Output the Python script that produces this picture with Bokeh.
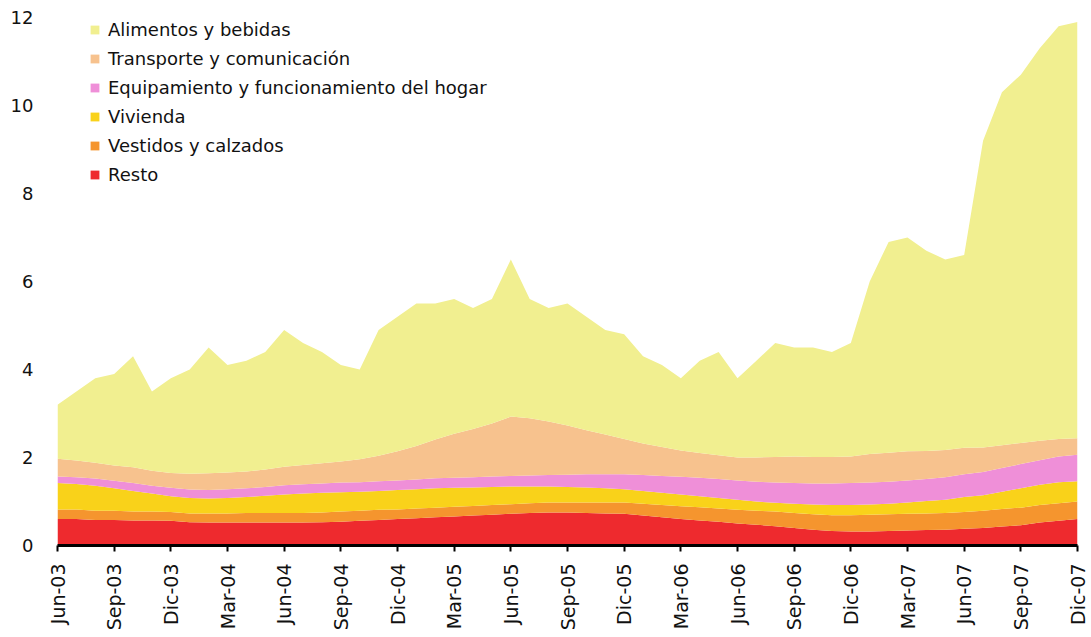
import numpy as np
from bokeh.plotting import figure
from bokeh.models import ColumnDataSource, FixedTicker, Legend, LegendItem, Range1d
from bokeh.embed import file_html
from bokeh.resources import INLINE

# Monthly contributions to inflation by group (percentage points)
months = [
    "Jun-03", "Jul-03", "Ago-03", "Sep-03", "Oct-03", "Nov-03", "Dic-03",
    "Ene-04", "Feb-04", "Mar-04", "Abr-04", "May-04", "Jun-04", "Jul-04",
    "Ago-04", "Sep-04", "Oct-04", "Nov-04", "Dic-04",
    "Ene-05", "Feb-05", "Mar-05", "Abr-05", "May-05", "Jun-05", "Jul-05",
    "Ago-05", "Sep-05", "Oct-05", "Nov-05", "Dic-05",
    "Ene-06", "Feb-06", "Mar-06", "Abr-06", "May-06", "Jun-06", "Jul-06",
    "Ago-06", "Sep-06", "Oct-06", "Nov-06", "Dic-06",
    "Ene-07", "Feb-07", "Mar-07", "Abr-07", "May-07", "Jun-07", "Jul-07",
    "Ago-07", "Sep-07", "Oct-07", "Nov-07", "Dic-07",
]

resto = [0.60, 0.60, 0.58, 0.58, 0.57, 0.57, 0.56, 0.53, 0.52, 0.52, 0.52, 0.52,
         0.52, 0.52, 0.53, 0.54, 0.56, 0.58, 0.60, 0.62, 0.64, 0.66, 0.68, 0.70,
         0.72, 0.74, 0.75, 0.75, 0.74, 0.73, 0.72, 0.68, 0.64, 0.60, 0.57, 0.54,
         0.50, 0.47, 0.44, 0.40, 0.36, 0.33, 0.32, 0.32, 0.33, 0.34, 0.35, 0.36,
         0.38, 0.40, 0.43, 0.46, 0.52, 0.56, 0.60]

vestidos = [0.22, 0.22, 0.21, 0.21, 0.20, 0.20, 0.20, 0.20, 0.21, 0.21, 0.22, 0.22,
            0.22, 0.22, 0.22, 0.23, 0.23, 0.23, 0.22, 0.22, 0.22, 0.22, 0.22, 0.22,
            0.22, 0.22, 0.23, 0.23, 0.24, 0.25, 0.26, 0.27, 0.28, 0.29, 0.30, 0.30,
            0.31, 0.32, 0.33, 0.34, 0.35, 0.36, 0.37, 0.38, 0.38, 0.38, 0.38, 0.38,
            0.38, 0.39, 0.40, 0.40, 0.40, 0.40, 0.40]

vivienda = [0.60, 0.58, 0.57, 0.51, 0.47, 0.41, 0.36, 0.35, 0.34, 0.35, 0.36, 0.39,
            0.42, 0.44, 0.45, 0.44, 0.43, 0.43, 0.44, 0.44, 0.44, 0.43, 0.42, 0.41,
            0.40, 0.38, 0.36, 0.35, 0.34, 0.32, 0.30, 0.29, 0.28, 0.27, 0.25, 0.24,
            0.23, 0.21, 0.20, 0.21, 0.22, 0.23, 0.23, 0.23, 0.24, 0.26, 0.28, 0.30,
            0.34, 0.35, 0.39, 0.44, 0.46, 0.48, 0.46]

equipamiento = [0.15, 0.15, 0.16, 0.17, 0.18, 0.18, 0.19, 0.19, 0.19, 0.20, 0.20, 0.20,
                0.21, 0.21, 0.21, 0.22, 0.22, 0.22, 0.22, 0.22, 0.23, 0.23, 0.23, 0.24,
                0.24, 0.25, 0.26, 0.28, 0.30, 0.32, 0.34, 0.36, 0.38, 0.40, 0.42, 0.43,
                0.44, 0.45, 0.46, 0.47, 0.48, 0.49, 0.50, 0.50, 0.50, 0.50, 0.50, 0.51,
                0.52, 0.53, 0.54, 0.55, 0.56, 0.58, 0.60]

transporte = [0.40, 0.38, 0.36, 0.35, 0.36, 0.34, 0.34, 0.36, 0.38, 0.38, 0.38, 0.40,
              0.42, 0.44, 0.46, 0.48, 0.52, 0.58, 0.66, 0.76, 0.88, 1.00, 1.10, 1.20,
              1.35, 1.30, 1.22, 1.12, 1.00, 0.90, 0.80, 0.72, 0.66, 0.60, 0.56, 0.54,
              0.52, 0.55, 0.58, 0.60, 0.60, 0.60, 0.60, 0.65, 0.66, 0.66, 0.64, 0.62,
              0.60, 0.56, 0.52, 0.48, 0.44, 0.40, 0.38]

alimentos = [1.23, 1.57, 1.92, 2.08, 2.52, 1.80, 2.15, 2.37, 2.86, 2.44, 2.52, 2.67,
             3.11, 2.77, 2.53, 2.19, 2.04, 2.86, 3.06, 3.24, 3.09, 3.06, 2.75, 2.83,
             3.57, 2.71, 2.58, 2.77, 2.58, 2.38, 2.38, 1.98, 1.86, 1.64, 2.10, 2.35,
             1.80, 2.20, 2.59, 2.48, 2.49, 2.39, 2.58, 3.92, 4.79, 4.86, 4.55, 4.33,
             4.38, 6.97, 8.02, 8.37, 8.92, 9.38, 9.46]

tick_labels = ["Jun-03", "Sep-03", "Dic-03", "Mar-04", "Jun-04", "Sep-04", "Dic-04",
               "Mar-05", "Jun-05", "Sep-05", "Dic-05", "Mar-06", "Jun-06", "Sep-06",
               "Dic-06", "Mar-07", "Jun-07", "Sep-07", "Dic-07"]

groups = ["resto", "vestidos", "vivienda", "equipamiento", "transporte", "alimentos"]
names = {
    "alimentos": "Alimentos y bebidas",
    "transporte": "Transporte y comunicación",
    "equipamiento": "Equipamiento y funcionamiento del hogar",
    "vivienda": "Vivienda",
    "vestidos": "Vestidos y calzados",
    "resto": "Resto",
}
colors = {
    "resto": "#EE2A2E",
    "vestidos": "#F5952E",
    "vivienda": "#F9D21A",
    "equipamiento": "#EF8FD8",
    "transporte": "#F7C28E",
    "alimentos": "#F1EF90",
}

x = list(range(len(months)))
src = ColumnDataSource(dict(
    x=x, resto=resto, vestidos=vestidos, vivienda=vivienda,
    equipamiento=equipamiento, transporte=transporte, alimentos=alimentos,
))

FONT = "DejaVu Sans"

p = figure(
    width=1091, height=637,
    x_range=Range1d(0, len(months) - 1), y_range=Range1d(0, 12),
    output_backend="svg", toolbar_location=None,
    min_border_left=57, min_border_right=14, min_border_top=17, min_border_bottom=92,
)
p.outline_line_color = None
p.xgrid.visible = False
p.ygrid.visible = False
p.background_fill_color = "white"
p.border_fill_color = "white"

renderers = p.varea_stack(
    stackers=groups, x="x", source=src,
    color=[colors[g] for g in groups],
)
by_group = dict(zip(groups, renderers))

# x axis: quarterly ticks labelled with month names, vertical text
ticks = [months.index(t) for t in tick_labels]
xa = p.xaxis[0]
xa.ticker = FixedTicker(ticks=ticks)
xa.major_label_overrides = {t: months[t] for t in ticks}
xa.major_label_orientation = np.pi / 2
xa.axis_line_color = "black"
xa.axis_line_width = 3
xa.major_tick_line_color = "black"
xa.major_tick_line_width = 2
xa.major_tick_in = 0
xa.major_tick_out = 6
xa.minor_tick_line_color = None
xa.major_label_standoff = 12
xa.major_label_text_font = FONT
xa.major_label_text_font_size = "19px"
xa.major_label_text_color = "#111111"

ya = p.yaxis[0]
ya.ticker = FixedTicker(ticks=[0, 2, 4, 6, 8, 10, 12])
ya.axis_line_color = None
ya.major_tick_line_color = None
ya.minor_tick_line_color = None
ya.major_label_standoff = 18
ya.major_label_text_font = FONT
ya.major_label_text_font_size = "18px"
ya.major_label_text_color = "#111111"

legend_order = ["alimentos", "transporte", "equipamiento", "vivienda", "vestidos", "resto"]
legend = Legend(
    items=[LegendItem(label=names[g], renderers=[by_group[g]]) for g in legend_order],
    location=(32, 360),
    orientation="vertical",
    background_fill_alpha=0,
    border_line_color=None,
    padding=0, margin=0,
    spacing=8,
    label_height=19,
    glyph_width=11, glyph_height=11,
    label_standoff=8,
    label_text_font=FONT,
    label_text_font_size="18px",
    label_text_color="#111111",
)
p.add_layout(legend, "center")

open("out.html", "w").write(file_html(p, INLINE))
